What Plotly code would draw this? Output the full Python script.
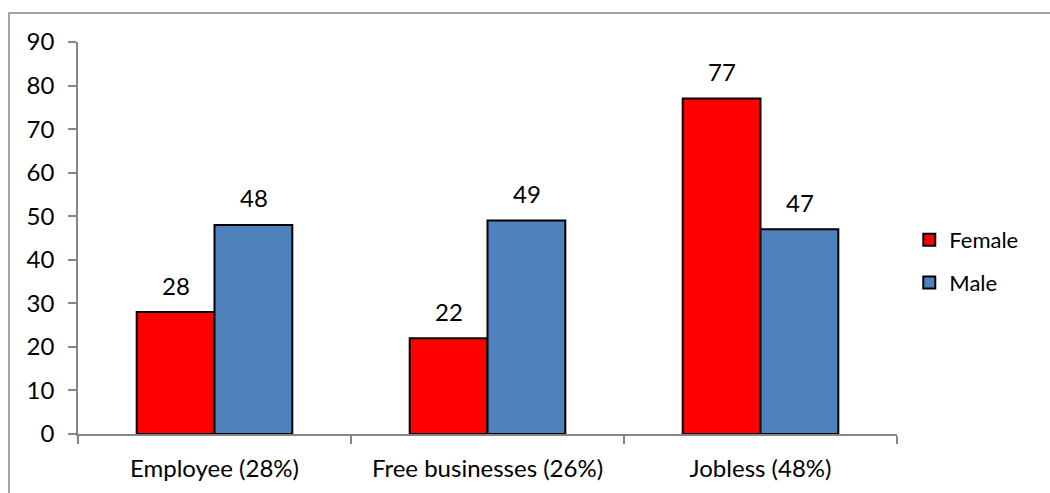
import plotly.graph_objects as go

categories = ["Employee (28%)", "Free businesses (26%)", "Jobless (48%)"]
female = [28, 22, 77]
male = [48, 49, 47]
y_ticks = [0, 10, 20, 30, 40, 50, 60, 70, 80, 90]

FONT = "Lato"
AXIS_GRAY = "#868686"

fig = go.Figure()
fig.add_trace(go.Bar(
    name="Female", x=categories, y=female, legendgroup="f",
    marker=dict(color="#FF0000", line=dict(color="black", width=2)),
))
fig.add_trace(go.Bar(
    name="Male", x=categories, y=male, legendgroup="m",
    marker=dict(color="#4F81BD", line=dict(color="black", width=2)),
))

# value labels above each bar
for series, shift in ((female, -39), (male, 39)):
    for cat, val in zip(categories, series):
        fig.add_annotation(
            x=cat, y=val, text=str(val), showarrow=False,
            xshift=shift, yshift=27, yanchor="middle",
            font=dict(family=FONT, size=24, color="black"),
        )

# outer chart frame
fig.add_shape(
    type="rect", xref="paper", yref="paper",
    x0=-0.0842, x1=1.3, y0=-0.5, y1=1.074,
    line=dict(color=AXIS_GRAY, width=1.5), fillcolor="rgba(0,0,0,0)",
    layer="below",
)

fig.update_layout(
    width=1050, height=493,
    margin=dict(l=78, r=153, t=42, b=59),
    paper_bgcolor="white", plot_bgcolor="white",
    barmode="group", bargap=0.43, bargroupgap=0,
    font=dict(family=FONT, size=24, color="black"),
    showlegend=True,
    legend=dict(
        x=1.015, y=0.44, xanchor="left", yanchor="middle",
        font=dict(family=FONT, size=22, color="black"),
        tracegroupgap=11, traceorder="grouped",
        bgcolor="rgba(0,0,0,0)",
    ),
    xaxis=dict(
        showline=True, linecolor=AXIS_GRAY, linewidth=1.5,
        ticks="outside", tickson="boundaries", ticklen=8,
        tickcolor=AXIS_GRAY, tickwidth=1.5,
        showgrid=False, tickfont=dict(family=FONT, size=24),
        ticklabelstandoff=12,
    ),
    yaxis=dict(
        range=[0, 90], tickvals=y_ticks,
        showline=True, linecolor=AXIS_GRAY, linewidth=1.5,
        ticks="outside", ticklen=8, tickcolor=AXIS_GRAY, tickwidth=1.5,
        showgrid=False, zeroline=False, tickfont=dict(family=FONT, size=24),
        ticklabelstandoff=9,
    ),
)

fig.write_html("out.html")
